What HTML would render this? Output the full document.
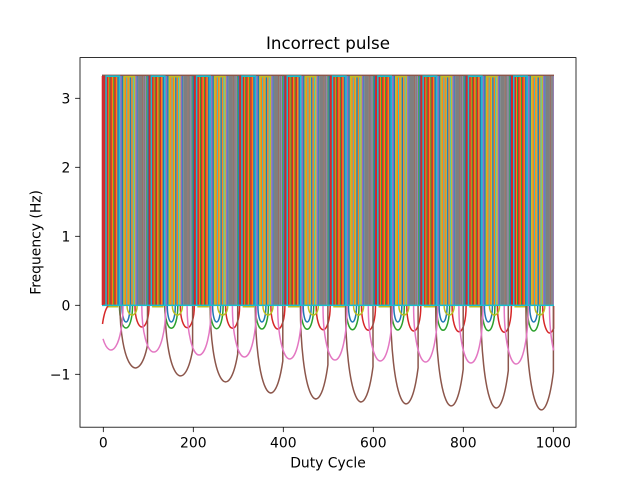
<!DOCTYPE html>
<html>
<head>
<meta charset="utf-8">
<style>
  html,body{margin:0;padding:0;background:#fff;}
  svg{display:block;}
  text{font-family:"DejaVu Sans","Liberation Sans",sans-serif;fill:#000;}
</style>
</head>
<body>
<svg width="640" height="480" viewBox="0 0 640 480" xmlns="http://www.w3.org/2000/svg">
  <defs>
    <pattern id="st" x="103.3" y="0" width="45.3" height="480" patternUnits="userSpaceOnUse">
      <rect x="0" y="74.6" width="45.3" height="1.6" fill="#8c564b"/>
      <rect x="0" y="76" width="2" height="229" fill="#d62728"/>
      <rect x="2" y="76" width="1.5" height="229" fill="#17becf"/>
      <rect x="3.5" y="76" width="1.5" height="229" fill="#d62728"/>
      <rect x="5" y="76" width="1" height="229" fill="#ff7f0e"/>
      <rect x="6" y="76" width="1" height="229" fill="#2ca02c"/>
      <rect x="7" y="76" width="1.5" height="229" fill="#d62728"/>
      <rect x="8.5" y="76" width="1.5" height="229" fill="#ff7f0e"/>
      <rect x="10" y="76" width="1" height="229" fill="#2ca02c"/>
      <rect x="11" y="76" width="1.5" height="229" fill="#d62728"/>
      <rect x="12.5" y="76" width="1.5" height="229" fill="#ff7f0e"/>
      <rect x="14" y="76" width="1.5" height="229" fill="#1f77b4"/>
      <rect x="15.5" y="76" width="1.5" height="229" fill="#17becf"/>
      <rect x="17" y="76" width="1.5" height="229" fill="#9467bd"/>
      <rect x="18.5" y="76" width="1.5" height="229" fill="#1f77b4"/>
      <rect x="20" y="76" width="1.5" height="229" fill="#bcbd22"/>
      <rect x="21.5" y="76" width="1.5" height="229" fill="#ff7f0e"/>
      <rect x="23" y="76" width="1" height="229" fill="#17becf"/>
      <rect x="24" y="76" width="1.5" height="229" fill="#ff7f0e"/>
      <rect x="25.5" y="76" width="1" height="229" fill="#bcbd22"/>
      <rect x="26.5" y="76" width="1.5" height="229" fill="#1f77b4"/>
      <rect x="28" y="76" width="1.5" height="229" fill="#ff7f0e"/>
      <rect x="29.5" y="76" width="1" height="229" fill="#17becf"/>
      <rect x="30.5" y="76" width="1.5" height="229" fill="#bcbd22"/>
      <rect x="32" y="76" width="1.5" height="229" fill="#9467bd"/>
      <rect x="33.5" y="76" width="1" height="229" fill="#1f77b4"/>
      <rect x="34.5" y="76" width="4.5" height="229" fill="#7f7f7f"/>
      <rect x="39" y="76" width="1" height="229" fill="#8c564b"/>
      <rect x="40" y="76" width="2" height="229" fill="#7f7f7f"/>
      <rect x="42" y="76" width="1" height="229" fill="#9467bd"/>
      <rect x="43" y="76" width="1" height="229" fill="#2ca02c"/>
      <rect x="44" y="76" width="1.3" height="229" fill="#1f77b4"/>
      <rect x="2" y="75.4" width="15" height="1.6" fill="#17becf"/>
      <rect x="20" y="75.9" width="12" height="1.5" fill="#bcbd22"/>
      <rect x="0" y="304.6" width="45.3" height="1.5" fill="#17becf"/>
      <rect x="3.4" y="306" width="11.6" height="1.5" fill="#bcbd22"/>
    </pattern>
  </defs>

  <!-- title -->
  <text x="328" y="49" font-size="16.7" text-anchor="middle">Incorrect pulse</text>

  <!-- pulse block -->
  <rect x="102" y="74" width="452" height="235" fill="url(#st)"/>
  <rect x="101.7" y="76" width="1.6" height="229" fill="#d62728"/>

  <g fill="none" stroke-width="1.5" stroke-linejoin="round" stroke-linecap="butt">
    <!-- blue -->
    <path stroke="#1f77b4" d="M122,306 A4 16 0 0 0 130,306 M167.3,306 A4 16 0 0 0 175.3,306 M212.6,306 A4 16 0 0 0 220.6,306 M257.9,306 A4 16 0 0 0 265.9,306 M303.2,306 A4 16 0 0 0 311.2,306 M348.5,306 A4 16 0 0 0 356.5,306 M393.8,306 A4 16 0 0 0 401.8,306 M439.1,306 A4 16 0 0 0 447.1,306 M484.4,306 A4 16 0 0 0 492.4,306 M529.7,306 A4 16 0 0 0 537.7,306"/>
    <!-- green -->
    <path stroke="#2ca02c" d="M119.5,306 A6.5 22 0 0 0 132.5,306 M164.8,306 A6.5 22.3 0 0 0 177.8,306 M210.1,306 A6.5 22.7 0 0 0 223.1,306 M255.4,306 A6.5 23 0 0 0 268.4,306 M300.7,306 A6.5 23.3 0 0 0 313.7,306 M346,306 A6.5 23.7 0 0 0 359,306 M391.3,306 A6.5 24 0 0 0 404.3,306 M436.6,306 A6.5 24.3 0 0 0 449.6,306 M481.9,306 A6.5 24.7 0 0 0 494.9,306 M527.2,306 A6.5 25 0 0 0 540.2,306"/>
    <!-- red -->
    <path stroke="#d62728" d="M102.5,324 Q104.5,310 108,306 M135,306 A7 21 0 0 0 149,306 M180.3,306 A7 21.7 0 0 0 194.3,306 M225.6,306 A7 22.3 0 0 0 239.6,306 M270.9,306 A7 23 0 0 0 284.9,306 M316.2,306 A7 23.7 0 0 0 330.2,306 M361.5,306 A7 24.3 0 0 0 375.5,306 M406.8,306 A7 25 0 0 0 420.8,306 M452.1,306 A7 25.7 0 0 0 466.1,306 M497.4,306 A7 26.3 0 0 0 511.4,306 M542.7,306 A7 27 0 0 0 553.6,328.4 L553.6,306"/>
    <!-- brown -->
    <path stroke="#8c564b" d="M120,306 A15.5 62 0 0 0 147.5,345.2 L147.5,306 M165.1,306 A15.5 70 0 0 0 192.6,350.2 L192.6,306 M210.2,306 A15.5 76 0 0 0 237.7,354 L237.7,306 M255.3,306 A15.5 87 0 0 0 282.8,361 L282.8,306 M300.4,306 A15.5 93 0 0 0 327.9,364.8 L327.9,306 M345.5,306 A15.5 96 0 0 0 373,366.7 L373,306 M390.6,306 A15.5 98 0 0 0 418.1,367.9 L418.1,306 M435.7,306 A15.5 100 0 0 0 463.2,369.2 L463.2,306 M480.8,306 A15.5 102 0 0 0 508.3,370.5 L508.3,306 M525.9,306 A15.5 104 0 0 0 553.4,371.7 L553.4,306"/>
    <!-- pink -->
    <path stroke="#e377c2" d="M103,338.8 A12 44 0 0 0 123,306 M141.8,306 A12 46 0 0 0 165.8,306 M187.1,306 A12 49 0 0 0 211.1,306 M232.4,306 A12 51 0 0 0 256.4,306 M277.7,306 A12 53 0 0 0 301.7,306 M323,306 A12 54 0 0 0 347,306 M368.3,306 A12 55 0 0 0 392.3,306 M413.6,306 A12 56 0 0 0 437.6,306 M458.9,306 A12 57 0 0 0 482.9,306 M504.2,306 A12 58 0 0 0 528.2,306 M549.5,306 A12 59 0 0 0 553.6,350.4"/>
    <!-- olive -->
    <path stroke="#bcbd22" d="M127.1,306 A5 9 0 0 0 137.1,306 M172.4,306 A5 9 0 0 0 182.4,306 M217.7,306 A5 9 0 0 0 227.7,306 M263,306 A5 9 0 0 0 273,306 M308.3,306 A5 9 0 0 0 318.3,306 M353.6,306 A5 9 0 0 0 363.6,306 M398.9,306 A5 9 0 0 0 408.9,306 M444.2,306 A5 9 0 0 0 454.2,306 M489.5,306 A5 9 0 0 0 499.5,306 M534.8,306 A5 9 0 0 0 544.8,306"/>
  </g>

  <!-- axes frame -->
  <rect x="80" y="57.6" width="496" height="369.6" fill="none" stroke="#000" stroke-width="0.8"/>

  <!-- ticks -->
  <g stroke="#000" stroke-width="0.8">
    <line x1="103.3" y1="427.2" x2="103.3" y2="432.1"/>
    <line x1="193.3" y1="427.2" x2="193.3" y2="432.1"/>
    <line x1="283.3" y1="427.2" x2="283.3" y2="432.1"/>
    <line x1="373.3" y1="427.2" x2="373.3" y2="432.1"/>
    <line x1="463.3" y1="427.2" x2="463.3" y2="432.1"/>
    <line x1="553.3" y1="427.2" x2="553.3" y2="432.1"/>
    <line x1="75.1" y1="98.3" x2="80" y2="98.3"/>
    <line x1="75.1" y1="167.3" x2="80" y2="167.3"/>
    <line x1="75.1" y1="236.3" x2="80" y2="236.3"/>
    <line x1="75.1" y1="305.3" x2="80" y2="305.3"/>
    <line x1="75.1" y1="374.3" x2="80" y2="374.3"/>
  </g>
  <g font-size="13.9" text-anchor="middle">
    <text x="103.3" y="447.5">0</text>
    <text x="193.3" y="447.5">200</text>
    <text x="283.3" y="447.5">400</text>
    <text x="373.3" y="447.5">600</text>
    <text x="463.3" y="447.5">800</text>
    <text x="553.3" y="447.5">1000</text>
  </g>
  <g font-size="13.9" text-anchor="end">
    <text x="70.3" y="103.3">3</text>
    <text x="70.3" y="172.3">2</text>
    <text x="70.3" y="241.3">1</text>
    <text x="70.3" y="310.3">0</text>
    <text x="70.3" y="379.3">−1</text>
  </g>

  <text x="328" y="467.5" font-size="13.9" text-anchor="middle">Duty Cycle</text>
  <text transform="translate(40.5,242.4) rotate(-90)" font-size="13.9" text-anchor="middle">Frequency (Hz)</text>
</svg>
</body>
</html>
